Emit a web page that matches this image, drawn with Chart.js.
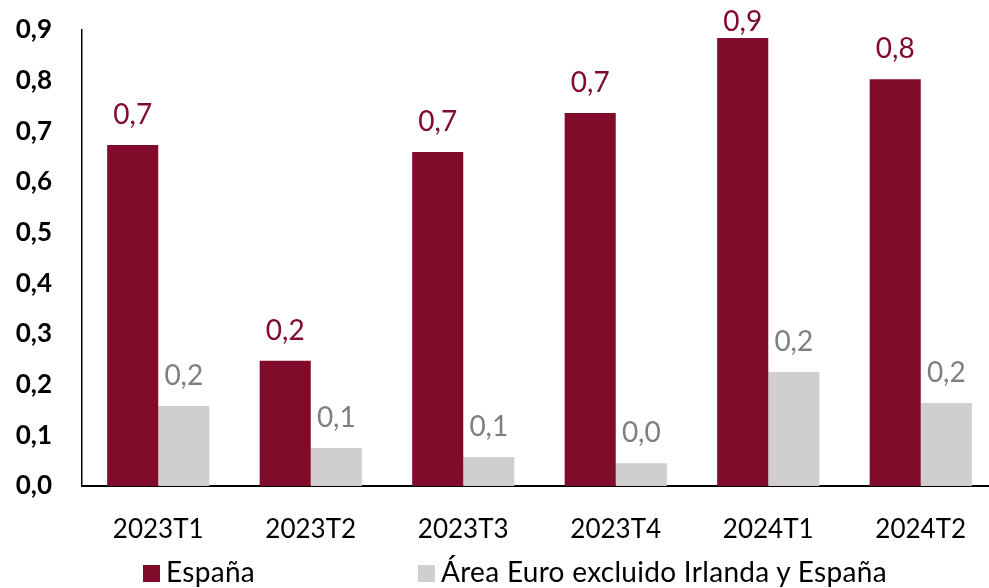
<!DOCTYPE html>
<html>
<head>
<meta charset="utf-8">
<script src="https://cdn.jsdelivr.net/npm/chart.js@4/dist/chart.umd.min.js"></script>
<style>
  html, body { margin: 0; padding: 0; background: #fff; overflow: hidden; }
  #wrap { position: relative; width: 997px; height: 588px; }
  #legend { position: absolute; left: 0; top: 555px; width: 989px; font-family: "Lato", sans-serif; font-size: 28px; color: #000; }
  .item { position: absolute; top: 0; white-space: nowrap; line-height: 33px; letter-spacing: 0.3px; }
  .box { display: inline-block; width: 17px; height: 17px; margin-right: 6px; vertical-align: 0px; }
</style>
</head>
<body>
<div id="wrap">
  <canvas id="chart" width="997" height="588"></canvas>
  <div id="legend"></div>
</div>
<script>
var categories = ["2023T1", "2023T2", "2023T3", "2023T4", "2024T1", "2024T2"];
var espana = [0.673, 0.247, 0.659, 0.736, 0.884, 0.803];
var areaEuro = [0.158, 0.075, 0.057, 0.045, 0.225, 0.164];
var seriesNames = ["España", "Área Euro excluido Irlanda y España"];
var seriesColors = ["#810b2b", "#d0cecf"];
var labelColors = ["#810b2b", "#7f7f7f"];

function formatValue (value) {
    return value.toFixed(1).replace(".", ",");
}

// draws value labels above every bar, kept inside the top of the canvas
var barLabels = {
    id: "barLabels",
    afterDatasetsDraw: function (chart) {
        let ctx = chart.ctx;
        ctx.save();
        ctx.font = "28px Lato";
        ctx.textAlign = "center";
        ctx.textBaseline = "middle";
        chart.data.datasets.forEach(function (ds, i) {
            let meta = chart.getDatasetMeta(i);
            ctx.fillStyle = labelColors[i];
            meta.data.forEach(function (bar, j) {
                ctx.fillText(formatValue(ds.data[j]), bar.x, Math.max(bar.y - 30, 22));
            });
        });
        ctx.restore();
    }
};

let canv = document.getElementById("chart").getContext("2d");
let chart = new Chart(canv, {
    type: "bar",
    data: {
        labels: categories,
        datasets: [
            { label: seriesNames[0], data: espana, backgroundColor: seriesColors[0] },
            { label: seriesNames[1], data: areaEuro, backgroundColor: seriesColors[1] }
        ]
    },
    options: {
        responsive: false,
        animation: false,
        layout: { padding: { top: 30, right: 0, left: 0, bottom: 42 } },
        datasets: {
            bar: { barPercentage: 1, categoryPercentage: 0.67 }
        },
        plugins: {
            legend: { display: false },
            tooltip: { enabled: false }
        },
        scales: {
            x: {
                grid: { display: false },
                border: { display: true, color: "#000", width: 2 },
                ticks: { color: "#000", font: { family: "Lato", size: 26 }, padding: 20 },
                afterFit: function (scale) { scale.height = 60; }
            },
            y: {
                min: 0,
                max: 0.9,
                grid: { display: false },
                border: { display: true, color: "#000", width: 1.5 },
                ticks: {
                    stepSize: 0.1,
                    color: "#000",
                    font: { family: "Lato", size: 26, weight: "bold" },
                    padding: 22,
                    callback: function (v) { return formatValue(v); }
                },
                afterFit: function (scale) {
                    scale.width = 82;
                    scale.paddingTop = 0;
                    scale.paddingBottom = 0;
                }
            }
        }
    },
    plugins: [barLabels]
});

let legend = document.getElementById("legend");
let legendX = [143, 418];
seriesNames.forEach(function (name, i) {
    let item = document.createElement("div");
    item.className = "item";
    item.style.left = legendX[i] + "px";
    item.innerHTML = '<span class="box" style="background:' + seriesColors[i] + '"></span>' + name;
    legend.appendChild(item);
});
</script>
</body>
</html>
